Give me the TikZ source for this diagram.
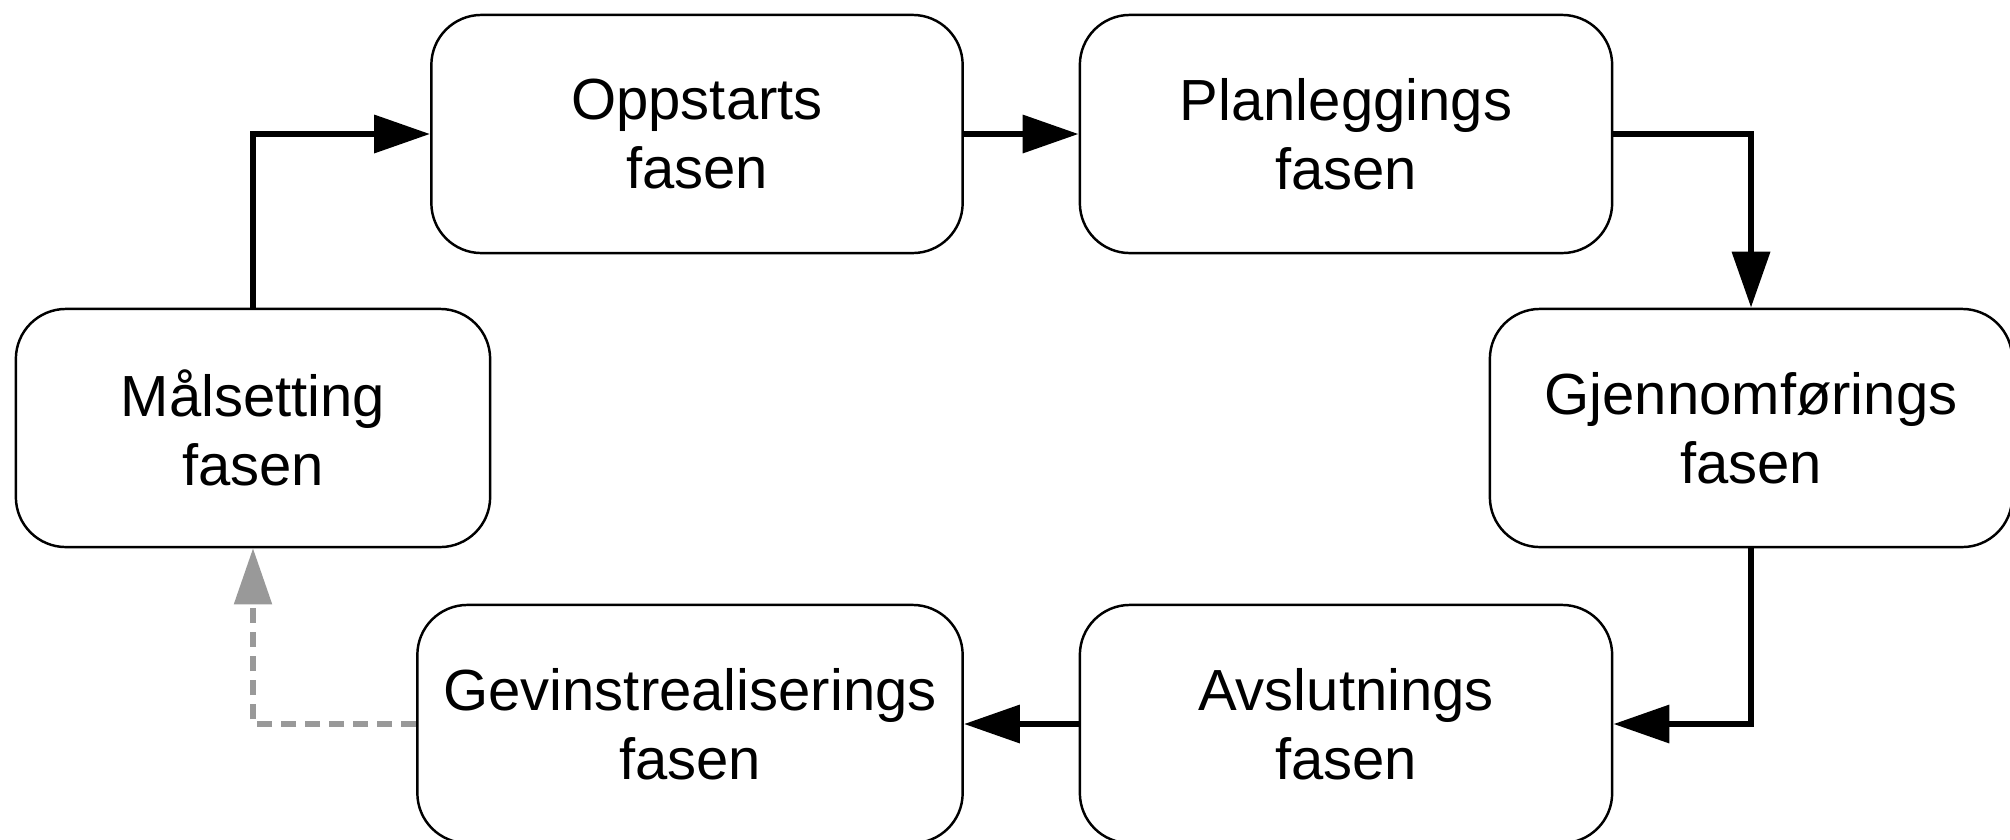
\documentclass[tikz,border=0pt]{standalone}
\usepackage{fontspec}
\setmainfont{Liberation Sans}
\usetikzlibrary{arrows.meta}
\begin{document}
\begin{tikzpicture}[x=0.01cm,y=-0.01cm,
  phase/.style={draw=black, line width=0.7pt, rounded corners=0.5cm, fill=white,
    align=center, inner sep=0pt, minimum height=2.38cm,
    font=\fontsize{16.5pt}{19.6pt}\selectfont},
  conn/.style={line width=1.9pt, -{Triangle[length=0.56cm,width=0.37cm]}},
  back/.style={line width=1.5pt, color=black!40, dash pattern=on 0.15cm off 0.09cm,
    -{Triangle[length=0.56cm,width=0.37cm]}}]
\useasboundingbox (0,0) rectangle (2010,839);
\clip (0,0) rectangle (2010,839);
\node[phase, minimum width=4.74cm] (mal) at (253,428) {Målsetting\\fasen};
\node[phase, minimum width=5.31cm] (opp) at (697,134) {Oppstarts\\fasen};
\node[phase, minimum width=5.32cm] (plan) at (1346,134) {Planleggings\\fasen};
\node[phase, minimum width=5.22cm] (gj) at (1751,428) {Gjennomførings\\fasen};
\node[phase, minimum width=5.32cm] (avs) at (1346,724) {Avslutnings\\fasen};
\node[phase, minimum width=5.45cm] (gev) at (690,724) {Gevinstrealiserings\\fasen};
\draw[conn] (mal.north) |- (opp.west);
\draw[conn] (opp.east) -- (plan.west);
\draw[conn] (plan.east) -| (gj.north);
\draw[conn] (gj.south) |- (avs.east);
\draw[conn] (avs.west) -- (gev.east);
\draw[back] (gev.west) -| (mal.south);
\end{tikzpicture}
\end{document}
